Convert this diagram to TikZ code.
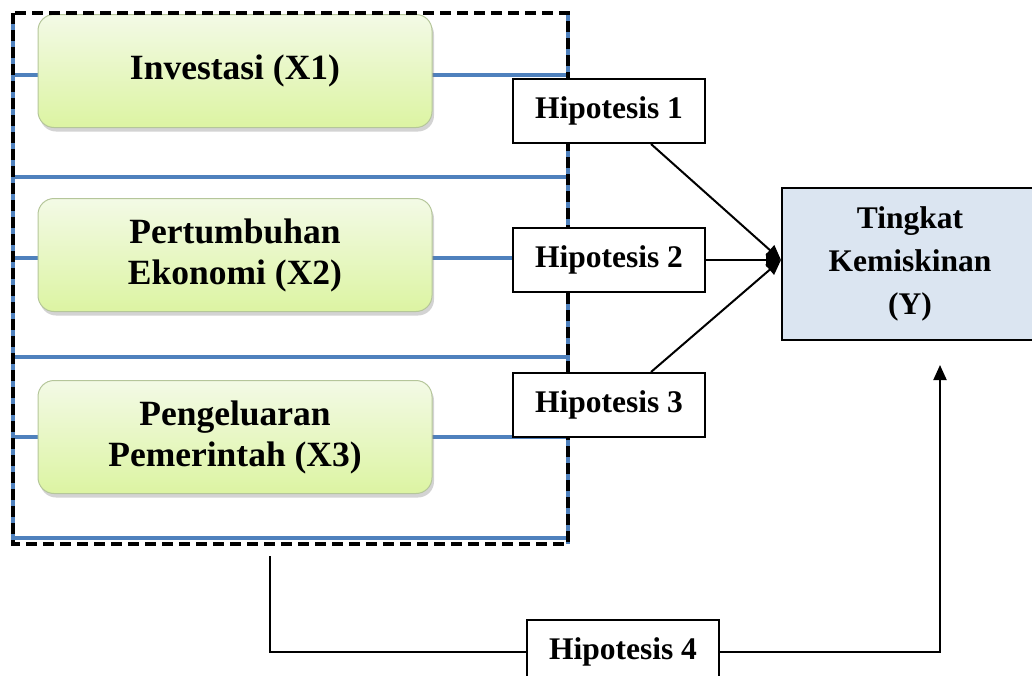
\documentclass[tikz,border=0pt]{standalone}
\usepackage{fontspec}
\setmainfont{Liberation Serif}
\usetikzlibrary{arrows.meta,shadows,calc}
\definecolor{blueline}{HTML}{4F81BD}
\definecolor{greentop}{HTML}{F3FAE6}
\definecolor{greenbot}{HTML}{DCF4A2}
\definecolor{greenedge}{HTML}{B5C69A}
\definecolor{ybox}{HTML}{DBE5F1}
\newcommand\varfont{\fontsize{35.5}{41}\selectfont\bfseries}
\newcommand\hipfont{\fontsize{31.5}{43}\selectfont\bfseries}
\tikzset{
  varbox/.style={rounded corners=16pt, draw=greenedge, line width=1pt,
    top color=greentop, bottom color=greenbot, minimum width=394pt,
    minimum height=113pt, align=center, font=\varfont,
    drop shadow={shadow xshift=2pt, shadow yshift=-4pt, opacity=0.35, fill=gray}},
  hipbox/.style={draw, line width=2pt, fill=white, minimum width=192pt,
    minimum height=64pt, font=\hipfont},
  blue link/.style={draw=blueline, line width=3.5pt},
  frame line/.style={line width=4.5pt, dash pattern=on 11pt off 6pt},
  conn/.style={line width=2pt},
  tip/.style={-{Triangle[length=15pt,width=13pt]}}
}
\begin{document}
\begin{tikzpicture}[x=1pt,y=-1pt]
  \useasboundingbox (0,0) rectangle (1032,675);
  % frame corners
  \coordinate (tl) at (13,13);
  \coordinate (br) at (568,544);
  % blue lines inside the frame
  \foreach \yy in {75,177,258,357,437,538}
    \draw[blue link] (tl |- 0,\yy) -- (br |- 0,\yy);
  \draw[blue link] (tl) -- (tl |- br);
  \draw[blue link] (br) -- (br |- tl);
  % variables
  \node[varbox] (x1) at (235,71) {Investasi (X1)};
  \node[varbox] (x2) at (235,255) {Pertumbuhan\\Ekonomi (X2)};
  \node[varbox] (x3) at (235,437) {Pengeluaran\\Pemerintah (X3)};
  % dashed frame
  \draw[frame line] (tl) rectangle (br);
  % hypotheses
  \node[hipbox] (h1) at (609,111) {Hipotesis 1};
  \node[hipbox] (h2) at (609,260) {Hipotesis 2};
  \node[hipbox] (h3) at (609,405) {Hipotesis 3};
  \node[hipbox] (h4) at (623,652) {Hipotesis 4};
  % dependent variable
  \node[draw, line width=2pt, fill=ybox, minimum width=256pt,
    minimum height=152pt, align=center, font=\hipfont] (y) at (910,264)
    {Tingkat\\Kemiskinan\\(Y)};
  % arrows to Y
  \coordinate (yin) at (h2.east -| y.west);
  \draw[conn, tip] ([xshift=-55pt]h1.south east) -- (yin);
  \draw[conn, tip] (h2.east) -- (yin);
  \draw[conn, tip] ([xshift=-55pt]h3.north east) -- (yin);
  % simultaneous test
  \coordinate (fb) at (270,556);
  \coordinate (ytip) at (940,365);
  \draw[conn] (fb) |- (h4.west);
  \draw[conn, tip] (h4.east) -| (ytip);
\end{tikzpicture}
\end{document}
